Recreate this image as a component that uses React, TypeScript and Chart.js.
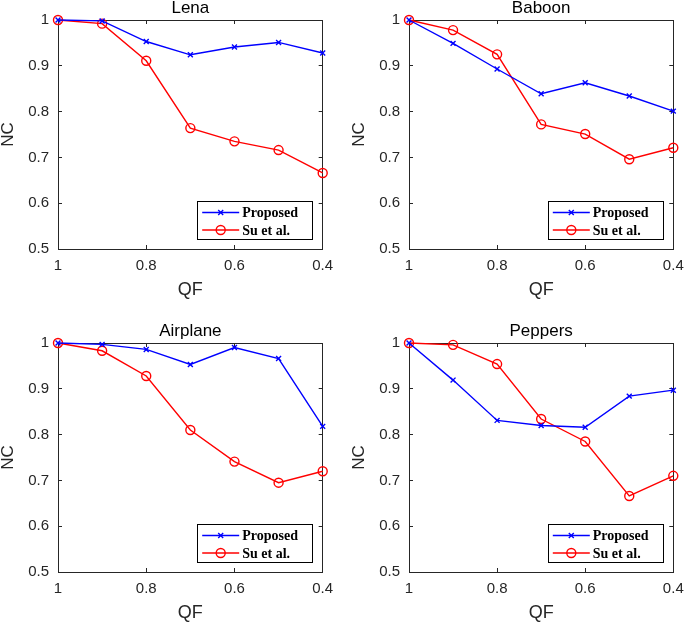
import React, { useEffect, useRef } from "react";
import { Chart, registerables } from "chart.js";

Chart.register(...registerables);

const QF = [1, 0.9, 0.8, 0.7, 0.6, 0.5, 0.4];
const SERIES_LABELS = ["Proposed", "Su et al."];

const LENA_PROPOSED = [1.0, 0.998, 0.953, 0.924, 0.941, 0.951, 0.928];
const LENA_SU = [1.0, 0.992, 0.911, 0.764, 0.735, 0.716, 0.666];
const BABOON_PROPOSED = [1.0, 0.949, 0.893, 0.839, 0.863, 0.834, 0.801];
const BABOON_SU = [1.0, 0.978, 0.925, 0.772, 0.751, 0.696, 0.721];
const AIRPLANE_PROPOSED = [1.0, 0.997, 0.986, 0.953, 0.99, 0.966, 0.818];
const AIRPLANE_SU = [1.0, 0.983, 0.928, 0.81, 0.741, 0.695, 0.72];
const PEPPERS_PROPOSED = [1.0, 0.919, 0.831, 0.82, 0.816, 0.884, 0.897];
const PEPPERS_SU = [1.0, 0.996, 0.954, 0.834, 0.785, 0.666, 0.71];

const X_TICK_VALUES = [1, 0.8, 0.6, 0.4];
const X_TICK_LABELS = ["1", "0.8", "0.6", "0.4"];
const Y_TICK_VALUES = [0.5, 0.6, 0.7, 0.8, 0.9, 1];
const Y_TICK_LABELS = ["0.5", "0.6", "0.7", "0.8", "0.9", "1"];

const SANS = "'Liberation Sans', Arial, Helvetica, sans-serif";
const SERIF = "'Liberation Serif', 'Times New Roman', serif";
const AXIS_COLOR = "#262626";

const boxLegend = {
  id: "boxLegend",
  afterDraw(chart: any) {
    const { ctx, chartArea } = chart;
    const w = 115;
    const h = 38;
    const right = chartArea.right - 10.5;
    const bottom = chartArea.bottom - 10;
    const left = right - w;
    const top = bottom - h;
    ctx.save();
    ctx.fillStyle = "#ffffff";
    ctx.fillRect(left, top, w, h);
    ctx.strokeStyle = "#000000";
    ctx.lineWidth = 1;
    ctx.strokeRect(Math.round(left) + 0.5, Math.round(top) + 0.5, w, h);
    const rows = [11.5, 29];
    chart.data.datasets.forEach((ds: any, i: number) => {
      const y = top + rows[i];
      const x1 = left + 5;
      const x2 = left + 42;
      const cx = (x1 + x2) / 2;
      ctx.strokeStyle = ds.borderColor;
      ctx.lineWidth = ds.borderWidth;
      ctx.beginPath();
      ctx.moveTo(x1, y);
      ctx.lineTo(x2, y);
      ctx.stroke();
      const r = ds.pointRadius;
      ctx.beginPath();
      if (ds.pointStyle === "crossRot") {
        const d = r * Math.SQRT1_2;
        ctx.moveTo(cx - d, y - d);
        ctx.lineTo(cx + d, y + d);
        ctx.moveTo(cx - d, y + d);
        ctx.lineTo(cx + d, y - d);
      } else {
        ctx.arc(cx, y, r, 0, Math.PI * 2);
      }
      ctx.stroke();
      ctx.fillStyle = "#000000";
      ctx.font = `bold 14px ${SERIF}`;
      ctx.textAlign = "left";
      ctx.textBaseline = "middle";
      ctx.fillText(ds.label, left + 45, y + 1);
    });
    ctx.restore();
  },
};

function zeroPadding(s: any) {
  s.paddingLeft = 0;
  s.paddingRight = 0;
  s.paddingTop = 0;
  s.paddingBottom = 0;
}

function makeXAxis(position: string, showLabels: boolean) {
  return {
    type: "linear",
    position,
    min: 0.4,
    max: 1,
    reverse: true,
    afterBuildTicks: (s: any) => {
      s.ticks = X_TICK_VALUES.map((v) => ({ value: v }));
    },
    afterFit: (s: any) => {
      s.height = showLabels ? 51 : 0;
      zeroPadding(s);
    },
    ticks: {
      display: showLabels,
      autoSkip: false,
      maxRotation: 0,
      padding: 12,
      color: AXIS_COLOR,
      font: { family: SANS, size: 15 },
      callback: (v: number) => X_TICK_LABELS[X_TICK_VALUES.indexOf(v)],
    },
    grid: { drawOnChartArea: false, tickLength: -4, color: AXIS_COLOR, lineWidth: 1 },
    border: { color: AXIS_COLOR, width: 1 },
    title: {
      display: showLabels,
      text: "QF",
      color: AXIS_COLOR,
      font: { family: SANS, size: 18, lineHeight: 1 },
      padding: { top: 0, bottom: 1 },
    },
  };
}

function makeYAxis(position: string, showLabels: boolean) {
  return {
    type: "linear",
    position,
    min: 0.5,
    max: 1,
    afterBuildTicks: (s: any) => {
      s.ticks = Y_TICK_VALUES.map((v) => ({ value: v }));
    },
    afterFit: (s: any) => {
      s.width = showLabels ? 58 : 0;
      zeroPadding(s);
    },
    ticks: {
      display: showLabels,
      autoSkip: false,
      padding: 13,
      color: AXIS_COLOR,
      font: { family: SANS, size: 15 },
      callback: (v: number) => Y_TICK_LABELS[Y_TICK_VALUES.indexOf(v)],
    },
    grid: { drawOnChartArea: false, tickLength: -4, color: AXIS_COLOR, lineWidth: 1 },
    border: { color: AXIS_COLOR, width: 1 },
    title: {
      display: showLabels,
      text: "NC",
      color: AXIS_COLOR,
      font: { family: SANS, size: 17, lineHeight: 1 },
      padding: { top: 0, bottom: 0 },
    },
  };
}

type PanelProps = {
  title: string;
  proposed: number[];
  su: number[];
  left: number;
  top: number;
  width: number;
  height: number;
  rightPad: number;
};

function Panel({ title, proposed, su, left, top, width, height, rightPad }: PanelProps) {
  const ref = useRef<HTMLCanvasElement | null>(null);
  useEffect(() => {
    if (!ref.current) return;
    const chart = new Chart(ref.current, {
      type: "line",
      data: {
        datasets: [
          {
            label: SERIES_LABELS[0],
            data: QF.map((x, i) => ({ x, y: proposed[i] })),
            borderColor: "#0000ff",
            backgroundColor: "#0000ff",
            borderWidth: 1.4,
            pointStyle: "crossRot",
            pointRadius: 3.5,
            pointBorderWidth: 1.4,
            pointBorderColor: "#0000ff",
            pointBackgroundColor: "#0000ff",
            tension: 0,
            clip: false,
          } as any,
          {
            label: SERIES_LABELS[1],
            data: QF.map((x, i) => ({ x, y: su[i] })),
            borderColor: "#ff0000",
            backgroundColor: "rgba(0,0,0,0)",
            borderWidth: 1.4,
            pointStyle: "circle",
            pointRadius: 4.5,
            pointBorderWidth: 1.4,
            pointBorderColor: "#ff0000",
            pointBackgroundColor: "rgba(0,0,0,0)",
            tension: 0,
            clip: false,
          } as any,
        ],
      },
      options: {
        animation: false,
        responsive: false,
        maintainAspectRatio: false,
        events: [],
        layout: { padding: { left: 0, right: rightPad, top: 0, bottom: 0 } },
        plugins: {
          legend: { display: false },
          tooltip: { enabled: false },
          title: {
            display: true,
            fullSize: false,
            text: title,
            color: "#000000",
            font: { family: SANS, size: 17, weight: "normal", lineHeight: 1 },
            padding: { top: 0, bottom: 3 },
          },
        },
        scales: {
          x: makeXAxis("bottom", true),
          x2: makeXAxis("top", false),
          y: makeYAxis("left", true),
          y2: makeYAxis("right", false),
        } as any,
      },
      plugins: [boxLegend],
    } as any);
    return () => chart.destroy();
  }, [title, proposed, su, rightPad]);
  return (
    <canvas
      ref={ref}
      width={width}
      height={height}
      style={{ position: "absolute", left, top, width, height }}
    />
  );
}

export default function App() {
  return (
    <div
      style={{
        position: "fixed",
        left: 0,
        top: 0,
        width: 685,
        height: 623,
        background: "#ffffff",
        overflow: "hidden",
      }}
    >
      <Panel title="Lena" proposed={LENA_PROPOSED} su={LENA_SU} left={0} top={0} width={342} height={300} rightPad={19.3} />
      <Panel title="Baboon" proposed={BABOON_PROPOSED} su={BABOON_SU} left={351} top={0} width={334} height={300} rightPad={11.7} />
      <Panel title="Airplane" proposed={AIRPLANE_PROPOSED} su={AIRPLANE_SU} left={0} top={323} width={342} height={300} rightPad={19.3} />
      <Panel title="Peppers" proposed={PEPPERS_PROPOSED} su={PEPPERS_SU} left={351} top={323} width={334} height={300} rightPad={11.7} />
    </div>
  );
}
